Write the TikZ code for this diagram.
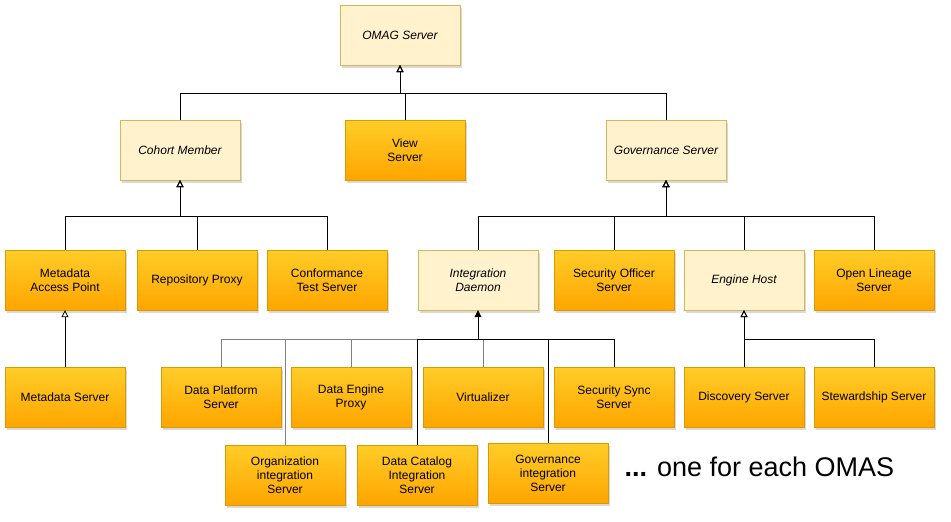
\documentclass[tikz,border=0pt]{standalone}
\usepackage{fontspec}
\setmainfont{Liberation Sans}
\usetikzlibrary{arrows.meta, shadows, positioning}
\definecolor{omcream}{HTML}{FFF2CC}
\definecolor{omtan}{HTML}{D6B656}
\definecolor{omtop}{HTML}{FFCD28}
\definecolor{ombottom}{HTML}{FFA500}
\definecolor{omedge}{HTML}{D79B00}
\definecolor{omgray}{HTML}{808080}
\tikzset{
  ombox/.style={rectangle, minimum width=120pt, minimum height=60pt, inner sep=1pt, align=center,
    font=\fontsize{12}{14}\selectfont,
    drop shadow={shadow xshift=2pt, shadow yshift=-3pt, opacity=0.25, fill=black!60}},
  omabstract/.style={ombox, draw=omtan, fill=omcream, font=\fontsize{12}{14}\selectfont\itshape},
  omserver/.style={ombox, draw=omedge, top color=omtop, bottom color=ombottom},
  omline/.style={draw=black, line width=0.8pt},
  omgline/.style={draw=omgray, line width=0.8pt},
  ominherit/.style={omline, -{Triangle[open, length=7pt, width=7pt]}},
  omfilled/.style={omline, -{Triangle[length=7pt, width=7pt]}},
}

\begin{document}
\begin{tikzpicture}[x=1pt, y=-1pt]
  \useasboundingbox (0,0) rectangle (951,522);

  % Top of the hierarchy.
  \node[omabstract] (omag) at (400,35) {OMAG Server};
  \node[omabstract] (cohort) at (180,150) {Cohort Member};
  \node[omserver] (view) at (405,150) {View\\Server};
  \node[omabstract] (gov) at (666,150) {Governance Server};

  % Cohort members.
  \node[omserver] (mapt) at (65,280) {Metadata\\Access Point};
  \node[omserver] (repproxy) at (197,280) {Repository Proxy};
  \node[omserver] (cts) at (327,280) {Conformance\\Test Server};
  \node[omserver, below=57pt of mapt] (mserver) {Metadata Server};

  % Governance servers.
  \node[omabstract] (intd) at (478,280) {Integration\\Daemon};
  \node[omserver] (secoff) at (614,280) {Security Officer\\Server};
  \node[omabstract] (ehost) at (744,280) {Engine Host};
  \node[omserver] (lineage) at (874,280) {Open Lineage\\Server};

  % Integration daemons.
  \node[omserver] (dps) at (221,397) {Data Platform\\Server};
  \node[omserver] (dep) at (351,397) {Data Engine\\Proxy};
  \node[omserver] (virt) at (483,397) {Virtualizer};
  \node[omserver] (ssync) at (614,397) {Security Sync\\Server};
  \node[omserver] (orgint) at (285,475) {Organization\\integration\\Server};
  \node[omserver] (dcat) at (417,475) {Data Catalog\\Integration\\Server};
  \node[omserver] (govint) at (548,473) {Governance\\integration\\Server};
  \node[anchor=west, font=\fontsize{27}{30}\selectfont] (note) at (621,467) {{\bfseries ...} one for each OMAS};

  % Engine hosts.
  \node[omserver] (disc) at (744,397) {Discovery Server};
  \node[omserver] (stew) at (874,397) {Stewardship Server};

  % Bus points.
  \coordinate (omagbus) at (400,93);
  \coordinate (cohortbus) at (180,216);
  \coordinate (govbus) at (666,216);
  \coordinate (intdbus) at (478,339);
  \coordinate (ehostbus) at (744,339);

  % Edges.
  \draw[ominherit] (cohort.north) |- (omagbus) -- (omag.south);
  \draw[ominherit] (view.north) |- (omagbus) -- (omag.south);
  \draw[ominherit] (gov.north) |- (omagbus) -- (omag.south);

  \draw[ominherit] (mapt.north) |- (cohortbus) -- (cohort.south);
  \draw[ominherit] (repproxy.north) |- (cohortbus) -- (cohort.south);
  \draw[ominherit] (cts.north) |- (cohortbus) -- (cohort.south);
  \draw[ominherit] (mserver.north) -- (mapt.south);

  \draw[ominherit] (intd.north) |- (govbus) -- (gov.south);
  \draw[ominherit] (secoff.north) |- (govbus) -- (gov.south);
  \draw[ominherit] (ehost.north) |- (govbus) -- (gov.south);
  \draw[ominherit] (lineage.north) |- (govbus) -- (gov.south);

  \draw[omgline] (dps.north) |- (intdbus);
  \draw[omgline] (dep.north) |- (intdbus);
  \draw[omgline] (virt.north) |- (intdbus);
  \draw[omgline] (orgint.north) |- (intdbus);
  \draw[omline] (dcat.north) |- (intdbus);
  \draw[omline] (govint.north) |- (intdbus);
  \draw[omline] (ssync.north) |- (intdbus);
  \draw[omfilled] (intdbus) -- (intd.south);

  \draw[ominherit] (disc.north) -- (ehost.south);
  \draw[ominherit] (stew.north) |- (ehostbus) -- (ehost.south);
\end{tikzpicture}
\end{document}
